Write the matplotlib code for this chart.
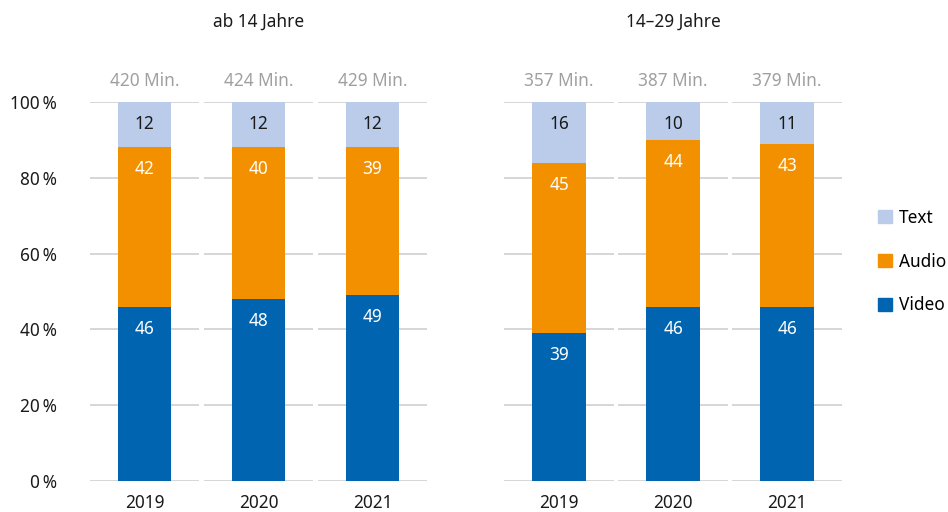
import matplotlib.pyplot as plt
from matplotlib.patches import Patch
import numpy as np

plt.rcParams['font.family'] = ['Noto Sans', 'DejaVu Sans']

years = ['2019', '2020', '2021']

# ab 14 Jahre
minutes_14 = [420, 424, 429]
video_14 = [46, 48, 49]
audio_14 = [42, 40, 39]
text_14 = [12, 12, 12]

# 14-29 Jahre
minutes_1429 = [357, 387, 379]
video_1429 = [39, 46, 46]
audio_1429 = [45, 44, 43]
text_1429 = [16, 10, 11]

yticks = [0, 20, 40, 60, 80, 100]

c_video = '#0064B0'
c_audio = '#F39000'
c_text = '#BBCCEA'
c_grid = '#CFCFCF'
c_min = '#A0A0A0'
fs = 12.4


def draw_panel(ax, title, minutes, video, audio, text, show_y):
    x = np.arange(len(years))
    # segmented gridlines, one piece per category
    for t in yticks:
        ax.hlines([t] * len(x), x - 0.48, x + 0.48, color=c_grid, lw=1.2, zorder=0)
    w = 0.465
    ax.bar(x, video, w, color=c_video, zorder=2)
    ax.bar(x, audio, w, bottom=video, color=c_audio, zorder=2)
    bottoms = np.array(video) + np.array(audio)
    ax.bar(x, text, w, bottom=bottoms, color=c_text, zorder=2)

    for i in range(len(years)):
        ax.text(x[i], video[i] - 5.8, str(video[i]), ha='center', va='center',
                color='white', fontsize=fs)
        ax.text(x[i], video[i] + audio[i] - 5.8, str(audio[i]), ha='center', va='center',
                color='white', fontsize=fs)
        ax.text(x[i], bottoms[i] + text[i] - 5.8, str(text[i]), ha='center', va='center',
                color='#1a1a1a', fontsize=fs)
        ax.annotate(f'{minutes[i]} Min.', (x[i], 100), xytext=(0, 15),
                    textcoords='offset points', ha='center', va='center',
                    color=c_min, fontsize=fs, annotation_clip=False)

    ax.text(0.5, 1 + 80 / 379, title, transform=ax.transAxes, ha='center', va='center',
            fontsize=fs, color='#1a1a1a')

    ax.set_xlim(-0.5, 2.5)
    ax.set_ylim(0, 100)
    ax.set_xticks(x)
    ax.set_xticklabels(years, fontsize=fs, color='#1a1a1a')
    ax.set_yticks(yticks)
    if show_y:
        ax.set_yticklabels([f'{t}\u2009%' for t in yticks], fontsize=fs, color='#1a1a1a')
    else:
        ax.set_yticklabels([])
    ax.tick_params(axis='both', length=0)
    ax.tick_params(axis='x', pad=9)
    ax.tick_params(axis='y', pad=22)
    for s in ax.spines.values():
        s.set_visible(False)


fig = plt.figure(figsize=(9.48, 5.12), dpi=100)
ax1 = fig.add_axes([87.5 / 948, 31 / 512, 342 / 948, 379 / 512])
ax2 = fig.add_axes([502 / 948, 31 / 512, 342 / 948, 379 / 512])

draw_panel(ax1, 'ab 14 Jahre', minutes_14, video_14, audio_14, text_14, True)
draw_panel(ax2, '14\u201329 Jahre', minutes_1429, video_1429, audio_1429, text_1429, False)

handles = [Patch(color=c_text, label='Text'),
           Patch(color=c_audio, label='Audio'),
           Patch(color=c_video, label='Video')]
fig.legend(handles=handles, loc='center left', bbox_to_anchor=(878 / 948, 0.489),
           frameon=False, fontsize=fs, handlelength=0.8, handleheight=0.8,
           handletextpad=0.4, labelspacing=1.5, borderpad=0, borderaxespad=0)

fig.savefig('out.png', dpi=100)
